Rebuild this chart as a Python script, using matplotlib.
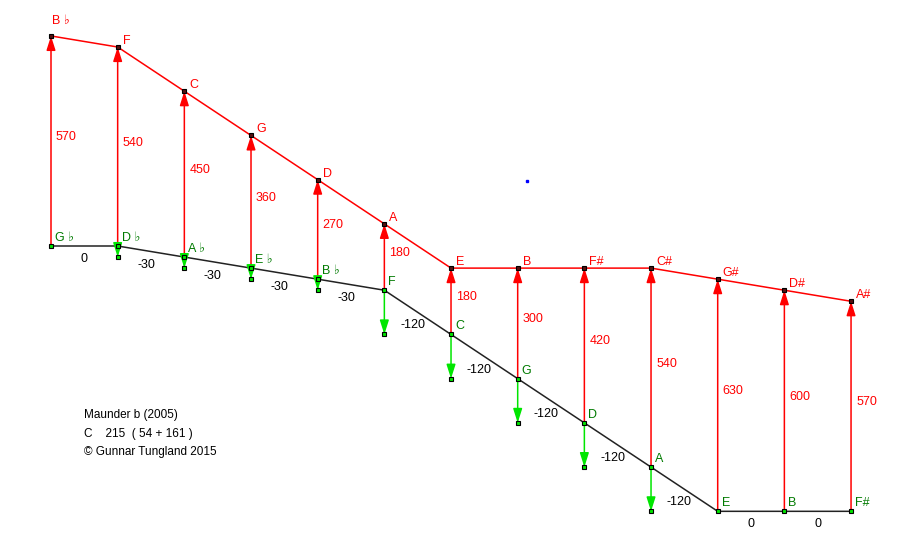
import numpy as np
import matplotlib
matplotlib.use("Agg")
import matplotlib.pyplot as plt

plt.rcParams['font.family'] = ['Liberation Sans', 'DejaVu Sans']

# Data
lower_notes = ["G ♭", "D ♭", "A ♭", "E ♭", "B ♭", "F", "C", "G", "D", "A", "E", "B", "F#"]
upper_notes = ["B ♭", "F", "C", "G", "D", "A", "E", "B", "F#", "C#", "G#", "D#", "A#"]
fifth_dev = [0, -30, -30, -30, -30, -120, -120, -120, -120, -120, 0, 0]
thirds = [570, 540, 450, 360, 270, 180, 180, 300, 420, 540, 630, 600, 570]
stray_point = (7.14, 176)
info_lines = ["Maunder b (2005)", "C    215  ( 54 + 161 )", "© Gunnar Tungland 2015"]

lower = np.concatenate([[0], np.cumsum(fifth_dev)])
upper = lower + np.array(thirds)
xs = np.arange(len(lower_notes))

RED = '#ff0000'
GREEN_TXT = '#007a00'
GREEN_ARR = '#00e600'

fig = plt.figure(figsize=(9.04, 5.46), dpi=100)
ax = fig.add_axes([0, 0, 1, 1])
dx = 66.67
sy = 0.3685
ax.set_xlim(-51 / dx, (904 - 51) / dx)
ax.set_ylim((246 - 546) / sy, 246 / sy)
ax.axis('off')

ax.plot(xs, lower, color='#222222', lw=1.1, zorder=2)
ax.plot(xs, upper, color=RED, lw=1.1, zorder=2)

arr_red = dict(arrowstyle='-|>,head_length=0.85,head_width=0.27', color=RED, lw=1.1,
               shrinkA=0, shrinkB=0)
arr_green = dict(arrowstyle='-|>,head_length=0.85,head_width=0.27', color=GREEN_ARR, lw=1.1,
                 shrinkA=0, shrinkB=0)

for i in range(len(xs)):
    ax.annotate('', xy=(xs[i], upper[i]), xytext=(xs[i], lower[i]), arrowprops=arr_red, zorder=3)
    mid = (upper[i] + lower[i]) / 2
    ax.annotate(str(thirds[i]), xy=(xs[i], mid), xytext=(5, 4), textcoords='offset pixels',
                ha='left', va='center', color=RED, fontsize=9)

for i in range(len(fifth_dev)):
    if fifth_dev[i] != 0:
        ax.annotate('', xy=(xs[i], lower[i + 1]), xytext=(xs[i], lower[i]),
                    arrowprops=arr_green, zorder=3)
        ax.plot([xs[i]], [lower[i + 1]], marker='s', ms=3.2, mfc=GREEN_ARR, mec='black',
                mew=0.8, zorder=4)
    mx = (xs[i] + xs[i + 1]) / 2
    my = (lower[i] + lower[i + 1]) / 2
    off_x = -5 if fifth_dev[i] != 0 else 0
    ax.annotate(str(fifth_dev[i]), xy=(mx, my), xytext=(off_x, -13), textcoords='offset pixels',
                ha='center', va='center', color='black', fontsize=9)

ax.plot(xs, lower, ls='none', marker='s', ms=3.2, mfc=GREEN_ARR, mec='black', mew=0.8, zorder=5)
ax.plot(xs, upper, ls='none', marker='s', ms=3.2, mfc='#551111', mec='black', mew=0.8, zorder=5)

for i in range(len(xs)):
    ax.annotate(lower_notes[i], xy=(xs[i], lower[i]), xytext=(4, 2), textcoords='offset pixels',
                ha='left', va='bottom', color=GREEN_TXT, fontsize=9)
    if i == 0:
        ax.annotate(upper_notes[i], xy=(xs[i], upper[i]), xytext=(1, 9), textcoords='offset pixels',
                    ha='left', va='bottom', color=RED, fontsize=9)
    else:
        ax.annotate(upper_notes[i], xy=(xs[i], upper[i]), xytext=(5, 0), textcoords='offset pixels',
                    ha='left', va='bottom', color=RED, fontsize=9)

ax.plot([stray_point[0]], [stray_point[1]], ls='none', marker='s', ms=2, color='blue', zorder=5)

for k, line in enumerate(info_lines):
    fig.text(84 / 904, 1 - (415 + 18.5 * k) / 546, line, ha='left', va='center',
             fontsize=8.5, color='black')

fig.savefig('out.png', dpi=100)
